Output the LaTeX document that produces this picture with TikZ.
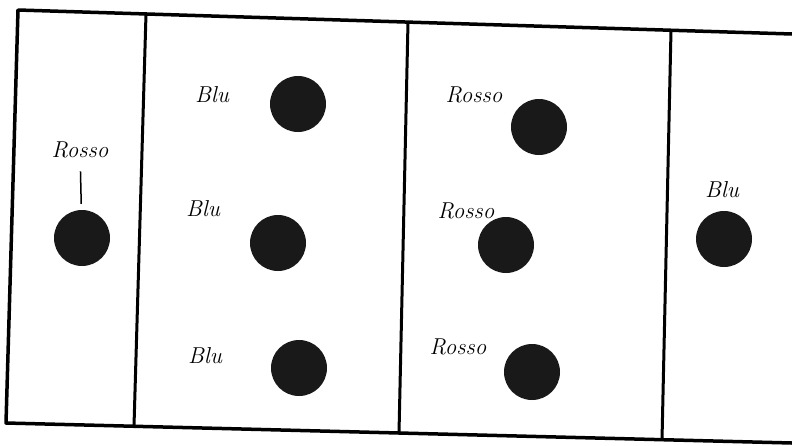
\documentclass[tikz,border=0pt]{standalone}
\begin{document}
\begin{tikzpicture}[x=1pt, y=-1pt,
    dot/.style={circle, fill=black!90, minimum size=56pt, inner sep=0pt},
    word/.style={font=\fontsize{23}{27}\selectfont\itshape, inner sep=1pt}]
  \useasboundingbox (0,0) rectangle (792,445);
  % frame
  \draw[line width=3.5pt, line join=round] (792,34) -- (18,10) -- (6,423) -- (792,443);
  \draw[line width=3pt] (146,14) -- (134,426);
  \draw[line width=3pt] (408,22) -- (399,433);
  \draw[line width=3pt] (671,30) -- (662,440);
  % first strip
  \node[dot] (dotA) at (82,238) {};
  \node[word] (rossoA) at (80,150) {Rosso};
  \draw[line width=1.5pt, shorten <=12pt, shorten >=6pt] (rossoA) -- (dotA);
  % second strip
  \node[dot] (dotB1) at (298,104) {};
  \node[dot] (dotB2) at (278,243) {};
  \node[dot] (dotB3) at (299,368) {};
  \node[word] (bluB1) at (212,95) {Blu};
  \node[word] (bluB2) at (203,209) {Blu};
  \node[word] (bluB3) at (205,356) {Blu};
  % third strip
  \node[dot] (dotC1) at (539,127) {};
  \node[dot] (dotC2) at (506,245) {};
  \node[dot] (dotC3) at (532,372) {};
  \node[word] (rossoC1) at (474,95) {Rosso};
  \node[word] (rossoC2) at (466,211) {Rosso};
  \node[word] (rossoC3) at (458,347) {Rosso};
  % fourth strip
  \node[dot] (dotD) at (724,239) {};
  \node[word] (bluD) at (722,190) {Blu};
\end{tikzpicture}
\end{document}
